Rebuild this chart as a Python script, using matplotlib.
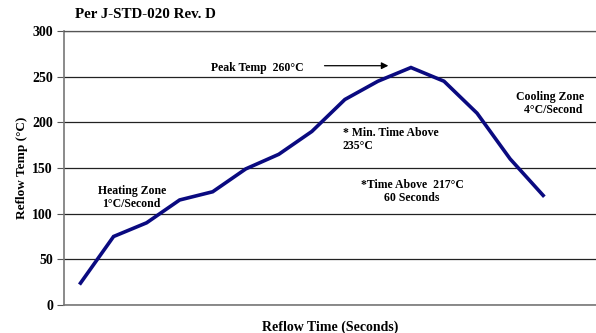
import matplotlib
matplotlib.use("Agg")
import matplotlib.pyplot as plt

# Reflow profile data
steps = list(range(1, 16))
temps = [24, 75, 90, 115, 124, 149, 165, 190, 225, 245, 260, 245, 210, 160, 120]
y_ticks = [0, 50, 100, 150, 200, 250, 300]

plt.rcParams['font.family'] = ['Liberation Serif', 'DejaVu Serif']
plt.rcParams['font.weight'] = 'bold'

fig = plt.figure(figsize=(5.96, 3.33), dpi=100)
ax = fig.add_axes([64 / 596, 28 / 333, 1 - 64 / 596, 274 / 333])

ax.plot(steps, temps, color='#0a0a80', linewidth=2.6, solid_joinstyle='miter', zorder=3)

ax.set_xlim(0.5, 16.6)
ax.set_ylim(0, 300)
ax.set_yticks(y_ticks)
ax.set_xticks([])
ax.tick_params(axis='y', labelsize=10, length=5, width=0.8, color='#555555', pad=3)
for lbl in ax.get_yticklabels():
    lbl.set_fontweight('bold')
ax.yaxis.grid(True, color='#222222', linewidth=0.9)
ax.set_axisbelow(True)

for side in ['left', 'bottom']:
    ax.spines[side].set_color('#777777')
    ax.spines[side].set_linewidth(1.2)
ax.spines['top'].set_color('#555555')
ax.spines['top'].set_linewidth(0.9)
ax.spines['right'].set_visible(False)

ax.set_ylabel('Reflow Temp (°C)', fontsize=9.5, fontweight='bold', labelpad=3)
ax.set_xlabel('Reflow Time (Seconds)', fontsize=10, fontweight='bold', labelpad=11)
fig.text(75 / 596, 1 - 15 / 333, 'Per J-STD-020 Rev. D', fontsize=10.8,
         fontweight='bold', ha='left', va='center')

ann = dict(fontsize=8.5, fontweight='bold')
ax.text(4.94, 260, 'Peak Temp  260°C', ha='left', va='center', **ann)
ax.annotate('', xy=(10.4, 262), xytext=(8.3, 262),
            arrowprops=dict(arrowstyle='-|>', color='black', lw=0.9))
ax.text(15.2, 221, 'Cooling Zone\n  4°C/Second', ha='center', va='center',
        multialignment='center', linespacing=1.1, **ann)
ax.text(8.94, 181, '* Min. Time Above\n235°C', ha='left', va='center',
        multialignment='left', linespacing=1.1, **ann)
ax.text(11.03, 124, '*Time Above  217°C\n60 Seconds', ha='center', va='center',
        multialignment='center', linespacing=1.1, **ann)
ax.text(2.55, 118, 'Heating Zone\n1°C/Second', ha='center', va='center',
        multialignment='center', linespacing=1.1, **ann)

fig.savefig('out.png', dpi=100)
